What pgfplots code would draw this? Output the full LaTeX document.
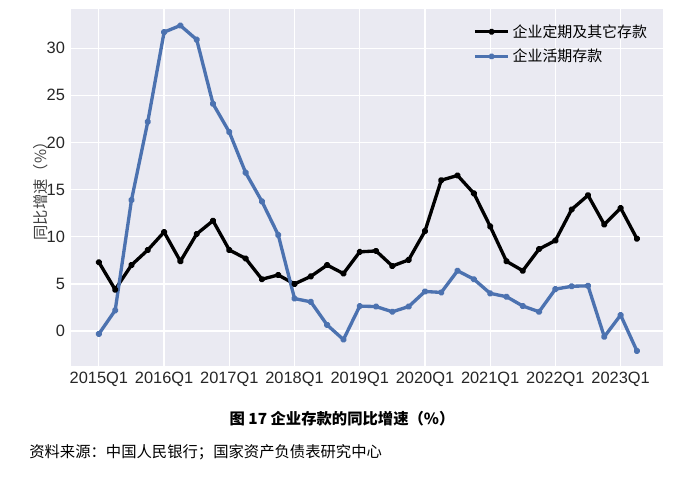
\documentclass[border=0pt]{standalone}
\usepackage{pgfplots}
\pgfplotsset{compat=1.18}
\usepackage{fontspec}
\setmainfont{Liberation Sans}
\newfontfamily\cjk{Noto Sans CJK SC}
\definecolor{bg}{HTML}{EAEAF2}
\definecolor{sblue}{HTML}{4C72B0}
\definecolor{ticktxt}{HTML}{262626}
\definecolor{labtxt}{HTML}{404040}
\begin{document}
\begin{tikzpicture}
\begin{pgfinterruptboundingbox}
\begin{axis}[scale only axis,
  width=444pt, height=267.75pt,
  xmin=-1.71, xmax=34.6, ymin=-3.7, ymax=34.15,
  axis background/.style={fill=bg},
  axis line style={draw=none},
  grid=major, grid style={white, line width=0.9pt},
  major tick length=0pt,
  xtick={0,4,8,12,16,20,24,28,32},
  xticklabels={2015Q1,2016Q1,2017Q1,2018Q1,2019Q1,2020Q1,2021Q1,2022Q1,2023Q1},
  ytick={0,5,10,15,20,25,30},
  /pgf/number format/assume math mode=true,
  tick label style={font=\fontsize{12.3}{14}\selectfont, text=ticktxt},
  xticklabel style={yshift=-1pt},
  yticklabel style={xshift=-1pt},
  ylabel={\cjk 同比增速（\%）},
  ylabel style={font=\fontsize{11.5}{13}\selectfont, text=labtxt, yshift=-8pt},
  legend style={at={(axis description cs:0.978,0.965)}, anchor=north east,
    draw=none, fill=none, inner sep=0pt, row sep=3.5pt,
    font=\cjk\fontsize{11.2}{13}\selectfont,
    legend cell align=left},
  legend image code/.code={\draw[#1, mark=none] (0pt,0pt) -- (25pt,0pt);
     \fill[#1] (12.5pt,0pt) circle (1.2pt);},
]
\coordinate (bl) at (rel axis cs:0,0);
\addplot[black, line width=2.5pt, mark=*, mark size=1.3pt, line join=round] coordinates {
(0,7.3) (1,4.4) (2,7.0) (3,8.6) (4,10.5) (5,7.4) (6,10.3) (7,11.7) (8,8.6) (9,7.7)
(10,5.5) (11,5.95) (12,5.0) (13,5.8) (14,7.0) (15,6.1) (16,8.4) (17,8.5) (18,6.9) (19,7.55)
(20,10.6) (21,16.0) (22,16.5) (23,14.6) (24,11.1) (25,7.4) (26,6.4) (27,8.7) (28,9.6) (29,12.9)
(30,14.4) (31,11.3) (32,13.05) (33,9.8)};
\addlegendentry{企业定期及其它存款}
\addplot[sblue, line width=2.5pt, mark=*, mark size=1.3pt, line join=round] coordinates {
(0,-0.3) (1,2.2) (2,13.9) (3,22.2) (4,31.7) (5,32.4) (6,30.9) (7,24.1) (8,21.1) (9,16.8)
(10,13.75) (11,10.2) (12,3.45) (13,3.1) (14,0.65) (15,-0.9) (16,2.65) (17,2.6) (18,2.05) (19,2.6)
(20,4.2) (21,4.1) (22,6.4) (23,5.5) (24,4.0) (25,3.65) (26,2.66) (27,2.05) (28,4.45) (29,4.75)
(30,4.8) (31,-0.6) (32,1.7) (33,-2.1)};
\addlegendentry{企业活期存款}
\end{axis}
\end{pgfinterruptboundingbox}
\path (bl) ++(-53.25pt,-86.25pt) coordinate (O);
\path[use as bounding box] (O) rectangle ++(525pt,360.75pt);
\path (O) ++(256.5pt,47pt) node[font=\cjk\bfseries\fontsize{11.5}{13}\selectfont, anchor=center] {图 17 企业存款的同比增速（\%）};
\path (O) ++(21.75pt,21.75pt) node[font=\cjk\fontsize{11.5}{13}\selectfont, anchor=west, inner sep=0pt] {资料来源：中国人民银行；国家资产负债表研究中心};
\end{tikzpicture}
\end{document}
